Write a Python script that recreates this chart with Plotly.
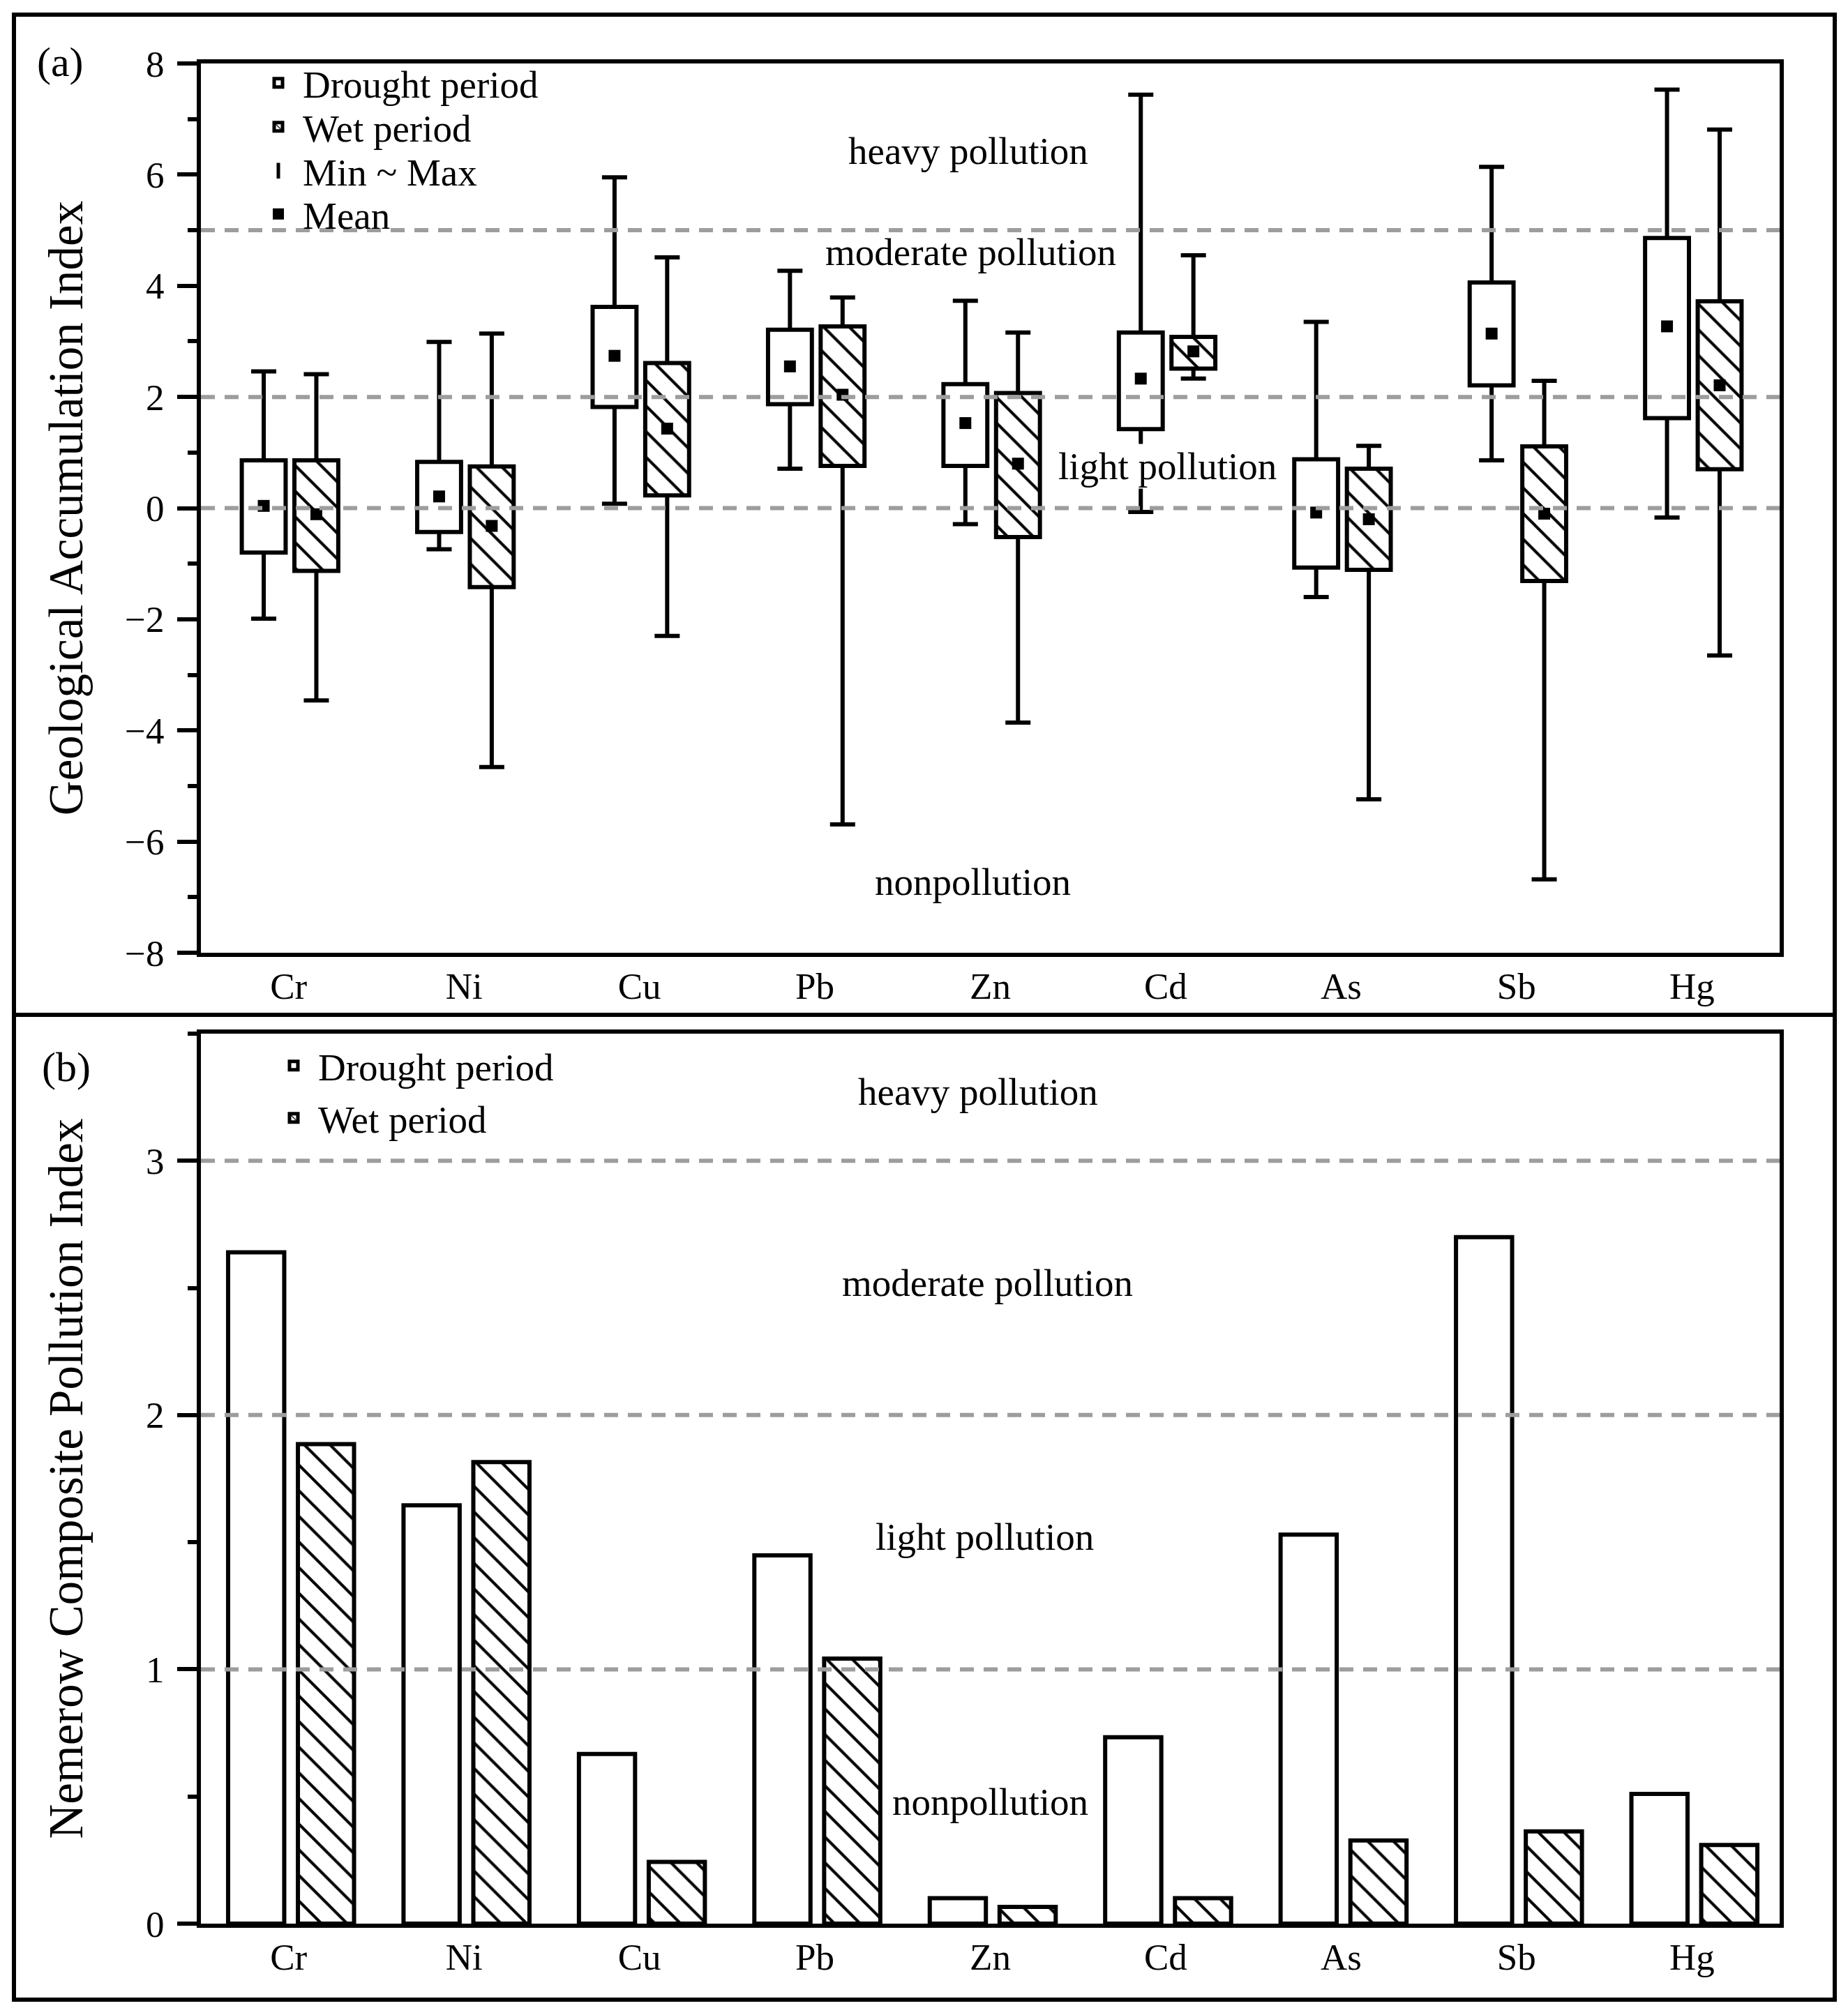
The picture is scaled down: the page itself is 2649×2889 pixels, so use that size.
import numpy as np
import plotly.graph_objects as go

# ---------------- data ----------------
elements = ['Cr', 'Ni', 'Cu', 'Pb', 'Zn', 'Cd', 'As', 'Sb', 'Hg']

# (a) Geological accumulation index: min, Q1, Q3, max, mean
drought_max = [2.46, 2.99, 5.95, 4.27, 3.73, 7.44, 3.35, 6.14, 7.53]
drought_q3 = [0.86, 0.83, 3.62, 3.21, 2.23, 3.16, 0.88, 4.06, 4.86]
drought_q1 = [-0.80, -0.43, 1.82, 1.87, 0.76, 1.42, -1.07, 2.21, 1.62]
drought_min = [-1.99, -0.74, 0.08, 0.71, -0.29, -0.07, -1.60, 0.86, -0.17]
drought_mean = [0.04, 0.21, 2.74, 2.55, 1.53, 2.33, -0.08, 3.14, 3.27]

wet_max = [2.41, 3.14, 4.51, 3.79, 3.16, 4.55, 1.12, 2.29, 6.81]
wet_q3 = [0.86, 0.75, 2.61, 3.27, 2.07, 3.08, 0.71, 1.11, 3.72]
wet_q1 = [-1.13, -1.42, 0.23, 0.76, -0.52, 2.51, -1.11, -1.31, 0.70]
wet_min = [-3.46, -4.66, -2.30, -5.69, -3.86, 2.33, -5.24, -6.68, -2.65]
wet_mean = [-0.11, -0.32, 1.43, 2.04, 0.80, 2.82, -0.20, -0.10, 2.21]

geo_thresholds = [0, 2, 5]

# (b) Nemerow composite pollution index
nemerow_drought = [2.64, 1.645, 0.667, 1.448, 0.10, 0.733, 1.53, 2.70, 0.51]
nemerow_wet = [1.886, 1.815, 0.243, 1.042, 0.066, 0.10, 0.327, 0.363, 0.309]

nemerow_thresholds = [1, 2, 3]

# ---------------- styling ----------------
W, H = 2649, 2889
SHIFT = 5  # compensate page body offset
FONT = 'Liberation Serif'
BOX_W = 0.25
OFF_D, OFF_WET = -0.267, 0.033
BAR_W = 0.32
BOFF_D, BOFF_WET = -0.345, 0.053
LW = 6
HATCH = dict(shape='\\', fgcolor='black', bgcolor='white', size=26, solidity=0.16)

idx = np.arange(len(elements))

def arr(a):
    return np.array(a, dtype=float)

fig = go.Figure()

# whiskers (drawn first so boxes cover them)
for mx, mn, off in [(drought_max, drought_min, OFF_D), (wet_max, wet_min, OFF_WET)]:
    fig.add_trace(go.Bar(
        x=idx, y=arr(mx), width=BOX_W, offset=off,
        marker=dict(color='rgba(0,0,0,0)', line=dict(width=0)),
        error_y=dict(type='data', symmetric=False, array=np.zeros(len(idx)),
                     arrayminus=arr(mx) - arr(mn), thickness=LW, width=18, color='black'),
        showlegend=False, hoverinfo='skip', xaxis='x', yaxis='y'))

# boxes (Q1-Q3)
fig.add_trace(go.Bar(
    x=idx, y=arr(drought_q3) - arr(drought_q1), base=drought_q1, width=BOX_W, offset=OFF_D,
    marker=dict(color='white', line=dict(color='black', width=LW)),
    name='Drought period', xaxis='x', yaxis='y', legend='legend'))
fig.add_trace(go.Bar(
    x=idx, y=arr(wet_q3) - arr(wet_q1), base=wet_q1, width=BOX_W, offset=OFF_WET,
    marker=dict(color='white', line=dict(color='black', width=LW), pattern=HATCH),
    name='Wet period', xaxis='x', yaxis='y', legend='legend3'))

# legend entry for whiskers
fig.add_trace(go.Scatter(
    x=[None], y=[None], mode='markers', name='Min ~ Max',
    marker=dict(symbol='line-ns', size=24, color='black', line=dict(color='black', width=LW)),
    xaxis='x', yaxis='y', legend='legend4'))

# means
fig.add_trace(go.Scatter(
    x=np.concatenate([idx + OFF_D + BOX_W / 2, idx + OFF_WET + BOX_W / 2]),
    y=np.concatenate([arr(drought_mean), arr(wet_mean)]),
    mode='markers', name='Mean',
    marker=dict(symbol='square', size=17, color='black'),
    xaxis='x', yaxis='y', legend='legend5'))

# (b) bars
fig.add_trace(go.Bar(
    x=idx, y=nemerow_drought, width=BAR_W, offset=BOFF_D,
    marker=dict(color='white', line=dict(color='black', width=LW)),
    name='Drought period', xaxis='x2', yaxis='y2', legend='legend2'))
fig.add_trace(go.Bar(
    x=idx, y=nemerow_wet, width=BAR_W, offset=BOFF_WET,
    marker=dict(color='white', line=dict(color='black', width=LW), pattern=HATCH),
    name='Wet period', xaxis='x2', yaxis='y2', legend='legend6'))

# ---------------- layout ----------------
# plot-area corners in target pixels
L, R, T, B = 285, 2548, 88, 2755
ml, mt = L - SHIFT, T - SHIFT
mr, mb = W - (R - SHIFT), H - (B - SHIFT)
pw, ph = R - L, B - T

def py(ypix):
    return (B - ypix) / ph

def px(xpix):
    return (xpix - L) / pw

tickfont = dict(family=FONT, size=53, color='black')
xax = dict(range=[-0.5, 8.5], tickmode='array', tickvals=idx, ticktext=elements,
           showline=True, mirror=True, linecolor='black', linewidth=6, ticks='', ticklen=0,
           showgrid=False, zeroline=False, tickfont=tickfont, ticklabelstandoff=-4)

def leg(xpix, ypix):
    return dict(x=px(xpix), y=py(ypix), xanchor='left', yanchor='middle',
                bgcolor='rgba(0,0,0,0)', borderwidth=0,
                font=dict(family=FONT, size=55, color='black'), itemwidth=60)

fig.update_layout(
    width=W, height=H, template='none',
    paper_bgcolor='white', plot_bgcolor='white',
    margin=dict(l=ml, r=mr, t=mt, b=mb, pad=0),
    barmode='overlay', showlegend=True,
    font=dict(family=FONT, color='black'),
    xaxis=dict(**xax, anchor='y', domain=[0, 1]),
    xaxis2=dict(**xax, anchor='y2', domain=[0, 1]),
    yaxis=dict(domain=[py(1363), 1], range=[-8, 8], dtick=2, tick0=0,
               showline=True, mirror=True, linecolor='black', linewidth=6,
               ticks='outside', ticklen=28, tickwidth=LW, tickcolor='black',
               minor=dict(dtick=1, ticks='outside', ticklen=13, tickwidth=LW, tickcolor='black',
                          showgrid=False),
               showgrid=False, zeroline=False, tickfont=tickfont, ticklabelstandoff=8,
               title=dict(text='Geological Accumulation Index', font=dict(family=FONT, size=69),
                          standoff=40)),
    yaxis2=dict(domain=[0, py(1479)], range=[0, 3.5], dtick=1, tick0=0,
                showline=True, mirror=True, linecolor='black', linewidth=6,
                ticks='outside', ticklen=28, tickwidth=LW, tickcolor='black',
                minor=dict(dtick=0.5, ticks='outside', ticklen=13, tickwidth=LW, tickcolor='black',
                           showgrid=False),
                showgrid=False, zeroline=False, tickfont=tickfont, ticklabelstandoff=8,
                title=dict(text='Nemerow Composite Pollution Index', font=dict(family=FONT, size=69),
                           standoff=70)),
    legend=leg(361, 116),
    legend3=leg(361, 179),
    legend4=leg(361, 242),
    legend5=leg(361, 304),
    legend2=leg(383, 1525),
    legend6=leg(383, 1600),
)

shapes = []
# panel frames
fx0, fx1 = px(17), px(2627)
for y0, y1 in [(py(1452), py(18)), (py(2864), py(1452))]:
    shapes.append(dict(type='rect', xref='paper', yref='paper', x0=fx0, x1=fx1, y0=y0, y1=y1,
                       fillcolor='rgba(0,0,0,0)', opacity=1,
                       line=dict(color='black', width=6), layer='above'))
# threshold lines
dash = dict(color='#9d9d9d', width=6, dash='20px,14px')
for t in geo_thresholds:
    shapes.append(dict(type='line', xref='x domain', yref='y', x0=0, x1=1, y0=t, y1=t,
                       line=dash, opacity=1, layer='above'))
for t in nemerow_thresholds:
    shapes.append(dict(type='line', xref='x2 domain', yref='y2', x0=0, x1=1, y0=t, y1=t,
                       line=dash, opacity=1, layer='above'))
fig.update_layout(shapes=shapes)

annfont = dict(family=FONT, size=55, color='black')
def ann(text, **kw):
    d = dict(text=text, showarrow=False, font=annfont, xanchor='center', yanchor='middle')
    d.update(kw)
    return d

anns = [
    ann('(a)', xref='paper', yref='paper', x=px(83), y=py(86),
        font=dict(family=FONT, size=60, color='black')),
    ann('(b)', xref='paper', yref='paper', x=px(92), y=py(1527),
        font=dict(family=FONT, size=60, color='black')),
    ann('heavy pollution', xref='x', yref='y', x=3.875, y=6.43),
    ann('moderate pollution', xref='x', yref='y', x=3.89, y=4.61),
    ann('light pollution', xref='x', yref='y', x=5.01, y=0.75, bgcolor='white'),
    ann('nonpollution', xref='x', yref='y', x=3.9, y=-6.73),
    ann('heavy pollution', xref='x2', yref='y2', x=3.93, y=3.27),
    ann('moderate pollution', xref='x2', yref='y2', x=3.985, y=2.52),
    ann('light pollution', xref='x2', yref='y2', x=3.97, y=1.52),
    ann('nonpollution', xref='x2', yref='y2', x=4.0, y=0.48),
]
fig.update_layout(annotations=anns)

fig.write_html('out.html')
